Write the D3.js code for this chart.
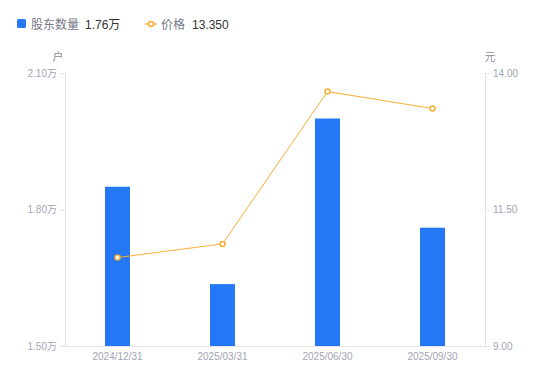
<!DOCTYPE html>
<html>
<head>
<meta charset="utf-8">
<script src="https://cdn.jsdelivr.net/npm/d3@7"></script>
<style>
  body { margin: 0; background: #ffffff; font-family: "Noto Sans CJK SC", "Liberation Sans", sans-serif; }
  svg { display: block; }
</style>
</head>
<body>
<svg id="chart"></svg>
<script>
const categories = ["2024/12/31", "2025/03/31", "2025/06/30", "2025/09/30"];
const holders = [1.85, 1.636, 2.00, 1.76];   // 万户
const prices = [10.62, 10.87, 13.66, 13.35]; // 元
const leftTicks = [1.5, 1.8, 2.1];
const rightTicks = [9, 11.5, 14];

const W = 550, H = 381;
const margin = { top: 73, right: 65, bottom: 35, left: 65 };
const barColor = "#2477f5";
const lineColor = "#f7ae35";
const axisColor = "#e3e3e8";
const tickText = "#a3a3b5";
const numFont = "'Liberation Sans', 'Noto Sans CJK SC', sans-serif";

const svg = d3.select("#chart").attr("width", W).attr("height", H);

const x = d3.scaleBand().domain(categories).range([margin.left, W - margin.right]);
const yL = d3.scaleLinear().domain([1.5, 2.1]).range([H - margin.bottom, margin.top]);
const yR = d3.scaleLinear().domain([9, 14]).range([H - margin.bottom, margin.top]);

// axes
const leftAxis = svg.append("g")
  .attr("transform", "translate(" + margin.left + ",0)")
  .call(d3.axisLeft(yL).tickValues(leftTicks).tickSize(5).tickPadding(3)
    .tickFormat(d => d3.format(".2f")(d) + "万"));
const rightAxis = svg.append("g")
  .attr("transform", "translate(" + (W - margin.right) + ",0)")
  .call(d3.axisRight(yR).tickValues(rightTicks).tickSize(5).tickPadding(3)
    .tickFormat(d3.format(".2f")));
const bottomAxis = svg.append("g")
  .attr("transform", "translate(0," + (H - margin.bottom) + ")")
  .call(d3.axisBottom(x).tickSize(0).tickPadding(7));

[leftAxis, rightAxis, bottomAxis].forEach(g => {
  g.select(".domain").attr("stroke", axisColor);
  g.selectAll(".tick line").attr("stroke", axisColor);
  g.selectAll(".tick text").attr("fill", tickText).style("font-size", "10px")
    .style("font-family", numFont);
});

svg.append("text").attr("x", 58).attr("y", 61).attr("text-anchor", "middle")
  .attr("fill", "#8a8a99").style("font-size", "11px").text("户");
svg.append("text").attr("x", 490).attr("y", 61).attr("text-anchor", "middle")
  .attr("fill", "#8a8a99").style("font-size", "11px").text("元");

// bars
const barW = 25;
svg.selectAll(".bar").data(categories).join("rect")
  .attr("class", "bar")
  .attr("x", (d) => x(d) + x.bandwidth() / 2 - barW / 2)
  .attr("y", (d, i) => yL(holders[i]))
  .attr("width", barW)
  .attr("height", (d, i) => yL(1.5) - yL(holders[i]))
  .attr("fill", barColor);

// price line
const line = d3.line()
  .x((d, i) => x(categories[i]) + x.bandwidth() / 2)
  .y(d => yR(d));
svg.append("path").datum(prices)
  .attr("d", line).attr("fill", "none")
  .attr("stroke", lineColor).attr("stroke-width", 1);
svg.selectAll(".pt").data(prices).join("circle")
  .attr("class", "pt")
  .attr("cx", (d, i) => x(categories[i]) + x.bandwidth() / 2)
  .attr("cy", d => yR(d))
  .attr("r", 2.5)
  .attr("fill", "#ffffff")
  .attr("stroke", lineColor).attr("stroke-width", 1.5);

// legend
const lg = svg.append("g");
lg.append("rect").attr("x", 17).attr("y", 19).attr("width", 9).attr("height", 9)
  .attr("rx", 1.5).attr("fill", barColor);
lg.append("text").attr("x", 31).attr("y", 28.5).attr("fill", "#77778a")
  .style("font-size", "12px").text("股东数量");
lg.append("text").attr("x", 85).attr("y", 28.5).attr("fill", "#333333")
  .style("font-size", "12px").style("font-family", numFont)
  .text(d3.format(".2f")(holders[3]) + "万");
lg.append("line").attr("x1", 145).attr("x2", 157).attr("y1", 24).attr("y2", 24)
  .attr("stroke", lineColor).attr("stroke-width", 1.5);
lg.append("circle").attr("cx", 151).attr("cy", 24).attr("r", 2.5)
  .attr("fill", "#ffffff").attr("stroke", lineColor).attr("stroke-width", 1.5);
lg.append("text").attr("x", 161).attr("y", 28.5).attr("fill", "#77778a")
  .style("font-size", "12px").text("价格");
lg.append("text").attr("x", 192).attr("y", 28.5).attr("fill", "#333333")
  .style("font-size", "12px").style("font-family", numFont)
  .text(d3.format(".3f")(prices[3]));
</script>
</body>
</html>
